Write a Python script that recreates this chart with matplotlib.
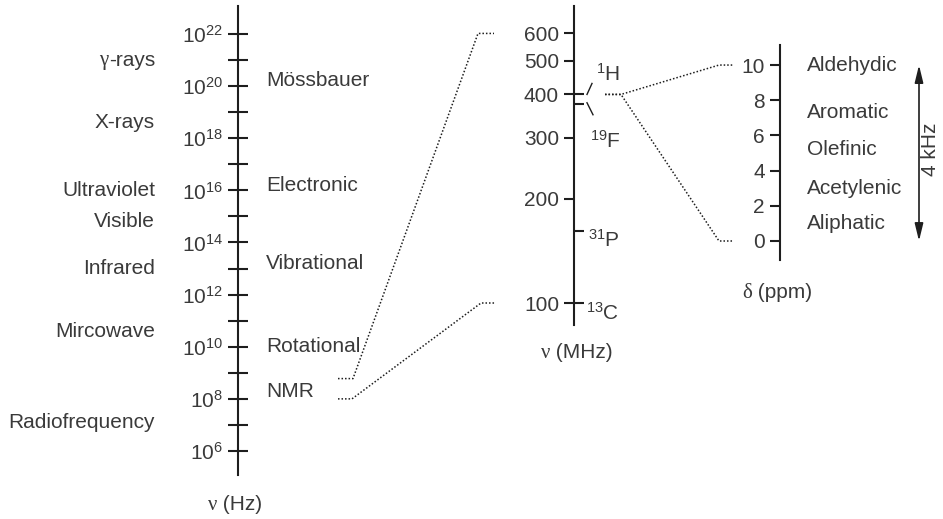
import numpy as np
import matplotlib
matplotlib.use("Agg")
import matplotlib.pyplot as plt
from matplotlib.ticker import FixedLocator, FuncFormatter, NullFormatter

# ---------------- data ----------------
hz_major_exp = [6, 8, 10, 12, 14, 16, 18, 20, 22]
hz_minor_exp = [7, 9, 11, 13, 15, 17, 19, 21]

# spectral regions (left of axis), log10(Hz)
region_names = ["γ-rays", "X-rays", "Ultraviolet", "Visible", "Infrared", "Mircowave", "Radiofrequency"]
region_exp = [21.0, 18.6, 16.0, 14.8, 13.0, 10.6, 7.1]

# spectroscopies (right of axis), log10(Hz)
method_names = ["Mössbauer", "Electronic", "Vibrational", "Rotational", "NMR"]
method_exp = [20.2, 16.2, 13.2, 10.0, 8.3]

# NMR spectrometer range (MHz)
nmr_range_mhz = [600, 100]

mhz_ticks = [100, 200, 300, 400, 500, 600]
nuclei = ["1H", "19F", "31P", "13C"]
nuclei_mhz = [400, 376, 161, 100]

ppm_ticks = [0, 2, 4, 6, 8, 10]
group_names = ["Aldehydic", "Aromatic", "Olefinic", "Acetylenic", "Aliphatic"]
group_ppm = [10.0, 7.3, 5.2, 3.0, 1.0]
ppm_span = [0, 10]
span_label = "4 kHz"

# ---------------- style ----------------
W, H = 943, 519
TXT = "#3a3a3a"
LINE = "#1e1e1e"
FS = 15
plt.rcParams.update({
    "font.family": ["Liberation Sans", "DejaVu Sans"],
    "mathtext.fontset": "custom",
    "mathtext.rm": "Liberation Sans",
    "mathtext.it": "Liberation Sans:italic",
    "mathtext.bf": "Liberation Sans:bold",
    "font.size": FS,
    "text.color": TXT,
})

fig = plt.figure(figsize=(W / 100, H / 100), dpi=100)

ax0 = fig.add_axes([0, 0, 1, 1])
ax0.set_xlim(0, W)
ax0.set_ylim(H, 0)
ax0.axis("off")


def frame(top_px, bot_px, xspine):
    ax = fig.add_axes([0, 1 - bot_px / H, 1, (bot_px - top_px) / H])
    ax.set_xlim(0, W)
    ax.patch.set_visible(False)
    for s in ["top", "bottom"]:
        ax.spines[s].set_visible(False)
    ax.spines["right"].set_visible(False)
    ax.spines["left"].set_position(("data", xspine))
    ax.spines["right"].set_position(("data", xspine))
    ax.spines["left"].set_linewidth(1.5)
    ax.spines["left"].set_color(LINE)
    ax.xaxis.set_visible(False)
    return ax


PX = 0.72  # points per pixel

# ---- Hz axis ----
ax1 = frame(6, 475, 238)
ax1.set_yscale("log")
ax1.set_ylim(10 ** 5.079, 10 ** 23.074)
ax1.yaxis.set_major_locator(FixedLocator([10.0 ** e for e in hz_major_exp]))
ax1.yaxis.set_minor_locator(FixedLocator([10.0 ** e for e in hz_minor_exp]))
ax1.yaxis.set_major_formatter(FuncFormatter(lambda v, p: r"$\mathregular{10^{%d}}$" % round(np.log10(v))))
ax1.yaxis.set_minor_formatter(NullFormatter())
ax1.tick_params(axis="y", which="both", direction="inout", length=20 * PX, width=1.5,
                color=LINE, pad=5 * PX, labelsize=FS, labelcolor=TXT)


def greek_text(ax, x, y, greek, rest, ha):
    t = ax.text(x, y, rest, ha=ha, va="center", fontsize=FS, color=TXT)
    ax.annotate(greek, xy=(0, 0), xycoords=t, ha="right", va="bottom",
                fontsize=FS, color=TXT, family=["Liberation Serif", "DejaVu Serif"])
    return t


for name, e in zip(region_names, region_exp):
    if name.startswith("γ"):
        greek_text(ax1, 155, 10 ** e, "γ", name[1:], "right")
    else:
        ax1.text(155, 10 ** e, name, ha="right", va="center", fontsize=FS, color=TXT)
for name, e in zip(method_names, method_exp):
    ax1.text(266, 10 ** e, name, ha="left", va="center", fontsize=FS, color=TXT)

# ---- MHz axis ----
ax2 = frame(6, 325, 574)
ax2.set_yscale("log")
ax2.set_ylim(86.4, 720)
ax2.yaxis.remove_overlapping_locs = False
ax2.yaxis.set_major_locator(FixedLocator(mhz_ticks))
ax2.yaxis.set_major_formatter(FuncFormatter(lambda v, p: "%d" % round(v)))
ax2.yaxis.set_minor_locator(FixedLocator(nuclei_mhz))
ax2.yaxis.set_minor_formatter(NullFormatter())
ax2.tick_params(axis="y", which="major", left=True, right=False, labelleft=True, labelright=False,
                direction="out", length=10 * PX, width=1.5, color=LINE, pad=5 * PX,
                labelsize=FS, labelcolor=TXT)
ax2.tick_params(axis="y", which="minor", left=False, right=True, labelleft=False, labelright=False,
                direction="out", length=10 * PX, width=1.5, color=LINE)

nuc_offsets = {"1H": (596, 21), "19F": (590, -37), "31P": (588, -8), "13C": (586, -10)}
for name, f in zip(nuclei, nuclei_mhz):
    x, dy = nuc_offsets[name]
    num = "".join(c for c in name if c.isdigit())
    sym = "".join(c for c in name if not c.isdigit())
    ax2.annotate(r"$\mathregular{^{%s}%s}$" % (num, sym), xy=(x, f), xytext=(0, dy * PX),
                 textcoords="offset points", ha="left", va="center", fontsize=FS, color=TXT)

# ---- ppm axis ----
ax3 = frame(45, 260, 780)
ax3.set_ylim(-1.08, 11.14)
ax3.yaxis.set_major_locator(FixedLocator(ppm_ticks))
ax3.yaxis.set_major_formatter(FuncFormatter(lambda v, p: "%d" % round(v)))
ax3.tick_params(axis="y", which="major", direction="out", length=10 * PX, width=1.5,
                color=LINE, pad=5 * PX, labelsize=FS, labelcolor=TXT)
for name, d in zip(group_names, group_ppm):
    ax3.text(807, d, name, ha="left", va="center", fontsize=FS, color=TXT)

ax3.annotate("", xy=(919, ppm_span[1]), xytext=(919, ppm_span[0]),
             arrowprops=dict(arrowstyle="<|-|>,head_length=0.7,head_width=0.17", lw=1.2,
                             color=LINE, shrinkA=0, shrinkB=0))
ax3.text(931, np.mean(ppm_span) + 0.2, span_label, rotation=90, ha="center", va="center",
         fontsize=FS, color=TXT)


# ---- connectors (overlay, y from each axis' own scale) ----
def ypx(ax, v):
    return ax0.transData.inverted().transform(ax.transData.transform((0, v)))[1]


dot = dict(color=LINE, lw=1.1, linestyle=(0, (1, 1.3)))
xs_l = [[338, 353, 478, 494], [338, 352, 481, 496]]
for xs, f in zip(xs_l, nmr_range_mhz):
    y1 = ypx(ax1, f * 1e6)
    y2 = ypx(ax2, f)
    ax0.plot(xs, [y1, y1, y2, y2], **dot)

yh = ypx(ax2, nuclei_mhz[0])
for d in ppm_span:
    yd = ypx(ax3, d)
    ax0.plot([605, 621, 719, 733], [yh, yh, yd, yd], **dot)

# leader marks for 1H / 19F
yf = ypx(ax2, nuclei_mhz[1])
ax0.plot([587, 592], [yh, yh - 11], color=LINE, lw=1.0)
ax0.plot([587, 593], [yf - 1, yf + 11], color=LINE, lw=1.0)

# ---- axis titles ----
for x, y, rest in [(217, 505, " (Hz)"), (550, 353, " (MHz)"), (752, 293, " (ppm)")]:
    t = ax0.text(x, y, rest, ha="left", va="center", fontsize=FS, color=TXT)
    g = "δ" if "ppm" in rest else "ν"
    ax0.annotate(g, xy=(0, 0), xycoords=t, ha="right", va="bottom", fontsize=FS, color=TXT,
                 family=["Liberation Serif", "DejaVu Serif"])

fig.savefig("out.png", dpi=100)
